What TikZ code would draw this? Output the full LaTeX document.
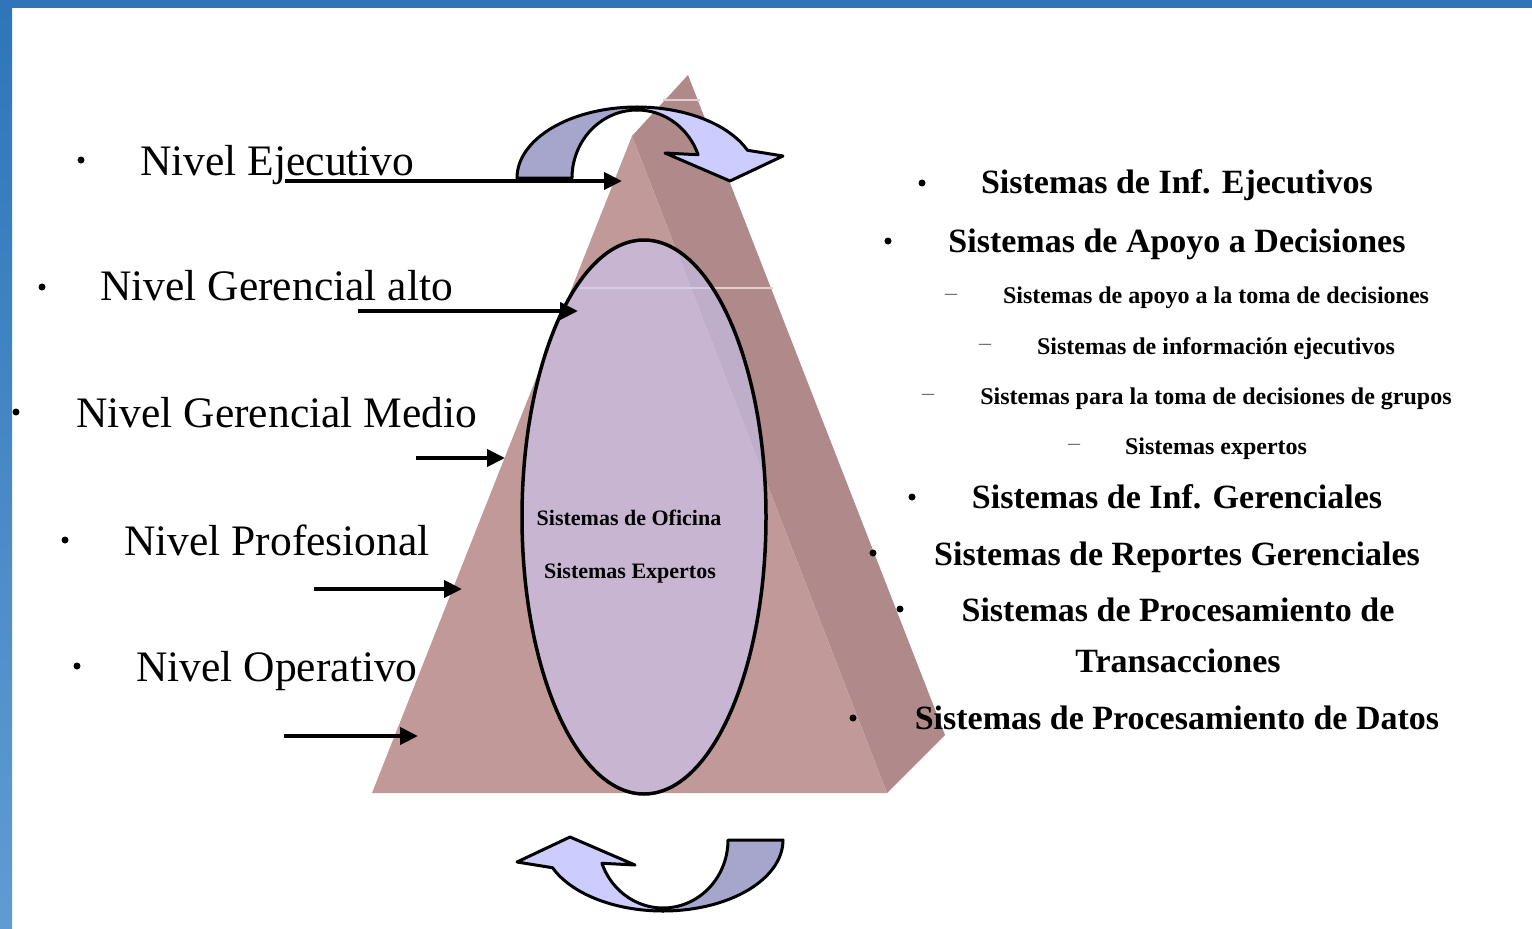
\documentclass[tikz,border=0pt]{standalone}
\usepackage{fontspec}
\setmainfont{Liberation Serif}
\usetikzlibrary{arrows.meta,shapes.geometric}

\definecolor{frameTop}{RGB}{46,117,185}
\definecolor{frameLow}{RGB}{96,156,210}
\definecolor{faceFront}{RGB}{193,153,153}
\definecolor{faceSide}{RGB}{176,138,138}
\definecolor{seam}{RGB}{226,206,206}
\definecolor{lav}{RGB}{204,204,255}
\definecolor{lavDark}{RGB}{166,166,204}
\definecolor{gridline}{RGB}{226,218,250}

% one curved block arrow: dark back half, light front half with its head
\newcommand\bandarrow{%
  \filldraw[bandback]
    plot[domain=180:90,samples=40] ({120*cos(\x)},{-71*sin(\x)})
    -- plot[domain=90:180,samples=40] ({65*cos(\x)},{-68*sin(\x)}) -- cycle;
  \filldraw[bandfront]
    plot[domain=90:23,samples=40] ({120*cos(\x)},{-71*sin(\x)})
    -- (146,-22) -- (93,3) -- (28,-25)
    -- plot[domain=20:90,samples=40] ({65*cos(\x)},{-68*sin(\x)}) -- cycle;
}

\begin{document}
\begin{tikzpicture}[x=1pt,y=-1pt,
  level/.style={anchor=base west,inner sep=0pt,font=\fontsize{43.5}{50}\selectfont},
  sysmain/.style={anchor=base,inner sep=0pt,font=\fontsize{34}{40}\selectfont\bfseries},
  syssub/.style={anchor=base,inner sep=0pt,font=\fontsize{24}{28}\selectfont\bfseries},
  ovaltext/.style={anchor=base,inner sep=0pt,font=\fontsize{22}{26}\selectfont\bfseries},
  dot/.style={circle,fill=black,inner sep=0pt,minimum size=7pt},
  subdash/.style={inner sep=0pt,text=black!55,font=\fontsize{24}{28}\selectfont},
  lvlarrow/.style={line width=4pt,-{Triangle[length=18pt,width=17pt]}},
  bandback/.style={fill=lavDark,draw=black,line width=3pt,line join=round},
  bandfront/.style={fill=lav,draw=black,line width=3pt,line join=round},
]
\useasboundingbox (0,0) rectangle (1532,929);
\fill[white] (0,0) rectangle (1532,929);

% slide frame
\fill[frameTop] (0,0) rectangle (1532,8);
\shade[top color=frameTop,bottom color=frameLow] (0,0) rectangle (12,929);

% pyramid
\coordinate (apex) at (688,75);
\coordinate (fronttop) at (632,136);
\coordinate (baseL) at (372,793);
\coordinate (baseR) at (887,793);
\coordinate (backR) at (945,735);
\fill[faceSide] (fronttop) -- (apex) -- (backR) -- (baseR) -- cycle;
\fill[faceFront] (baseL) -- (fronttop) -- (baseR) -- cycle;
\coordinate (s1a) at (663,100);
\coordinate (s1b) at (700,100);
\coordinate (s2a) at (580,288);
\coordinate (s2b) at (773,288);
\draw[seam,line width=1.5pt] (s1a) -- (s1b);
\draw[seam,line width=1.5pt] (s2a) -- (s2b);

% central oval
\node[ellipse,minimum width=244pt,minimum height=554pt,inner sep=0pt,
      draw=black,line width=3.5pt,
      path picture={
        \fill[lav,opacity=0.55] (path picture bounding box.south west)
          rectangle (path picture bounding box.north east);
        \foreach \i in {0,...,42}
          \draw[gridline,line width=0.8pt,opacity=0.7] (523+6*\i,235) -- (523+6*\i,800);
        \foreach \i in {0,...,94}
          \draw[gridline,line width=0.8pt,opacity=0.7] (515,238+6*\i) -- (775,238+6*\i);
      }] (oval) at (644,517) {};
\node[ovaltext] (office) at (629,525) {Sistemas de Oficina};
\node[ovaltext] (expert) at (630,578) {Sistemas Expertos};

% curved arrows above and below the pyramid
\begin{scope}[shift={(637,178)}]
  \bandarrow
\end{scope}
\begin{scope}[shift={(663,840)},rotate=180]
  \bandarrow
\end{scope}

% organisational levels
\node[dot] (b1) at (81,160) {};
\node[dot] (b2) at (42,287) {};
\node[dot] (b3) at (16,412) {};
\node[dot] (b4) at (65,540) {};
\node[dot] (b5) at (77,666) {};
\node[level] (lvl1) at (140,175) {Nivel Ejecutivo};
\node[level] (lvl2) at (100,300) {Nivel Gerencial alto};
\node[level] (lvl3) at (76,427) {Nivel Gerencial Medio};
\node[level] (lvl4) at (124,555) {Nivel Profesional};
\node[level] (lvl5) at (136,681) {Nivel Operativo};

\coordinate (a1s) at (285,181); \coordinate (a1e) at (622,181);
\coordinate (a2s) at (358,311); \coordinate (a2e) at (578,311);
\coordinate (a3s) at (416,458); \coordinate (a3e) at (505,458);
\coordinate (a4s) at (314,589); \coordinate (a4e) at (462,589);
\coordinate (a5s) at (284,736); \coordinate (a5e) at (418,736);
\draw[lvlarrow] (a1s) -- (a1e);
\draw[lvlarrow] (a2s) -- (a2e);
\draw[lvlarrow] (a3s) -- (a3e);
\draw[lvlarrow] (a4s) -- (a4e);
\draw[lvlarrow] (a5s) -- (a5e);

% information systems
\node[dot] (r1) at (922,183) {};
\node[dot] (r2) at (888,241) {};
\node[dot] (r3) at (912,497) {};
\node[dot] (r4) at (873,553) {};
\node[dot] (r5) at (900,609) {};
\node[dot] (r6) at (853,718) {};
\node[subdash] (d1) at (951,297) {–};
\node[subdash] (d2) at (985,347) {–};
\node[subdash] (d3) at (928,397) {–};
\node[subdash] (d4) at (1074,447) {–};

\node[sysmain] (sys1) at (1177,193) {Sistemas de Inf. Ejecutivos};
\node[sysmain] (sys2) at (1177,252) {Sistemas de Apoyo a Decisiones};
\node[syssub] (sub1) at (1216,303) {Sistemas de apoyo a la toma de decisiones};
\node[syssub] (sub2) at (1216,354) {Sistemas de información ejecutivos};
\node[syssub] (sub3) at (1216,404) {Sistemas para la toma de decisiones de grupos};
\node[syssub] (sub4) at (1216,454) {Sistemas expertos};
\node[sysmain] (sys3) at (1177,508) {Sistemas de Inf. Gerenciales};
\node[sysmain] (sys4) at (1177,565) {Sistemas de Reportes Gerenciales};
\node[sysmain] (sys5) at (1178,621) {Sistemas de Procesamiento de};
\node[sysmain] (sys5b) at (1178,672) {Transacciones};
\node[sysmain] (sys6) at (1177,729) {Sistemas de Procesamiento de Datos};
\end{tikzpicture}
\end{document}
